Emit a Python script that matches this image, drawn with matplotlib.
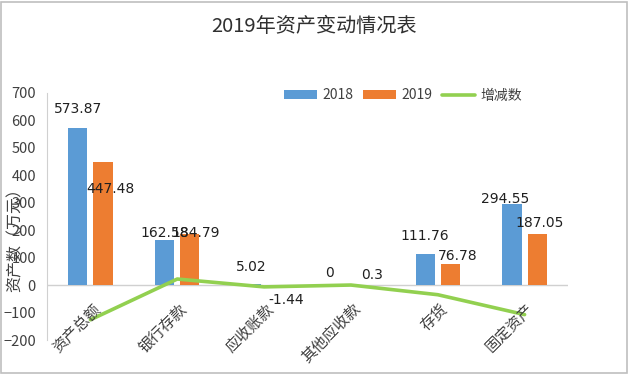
import numpy as np
import matplotlib.pyplot as plt
from matplotlib.patches import Rectangle

plt.rcParams['font.family'] = ['Noto Sans CJK SC', 'DejaVu Sans']

categories = ["资产总额", "银行存款", "应收账款", "其他应收款", "存货", "固定资产"]
v2018 = [573.87, 162.58, 5.02, 0, 111.76, 294.55]
v2019 = [447.48, 184.79, -1.44, 0.3, 76.78, 187.05]
change = [-126.39, 22.21, -6.46, 0.3, -34.98, -107.5]
labels2018 = ["573.87", "162.58", "5.02", "0", "111.76", "294.55"]
labels2019 = ["447.48", "184.79", "-1.44", "0.3", "76.78", "187.05"]

# label offsets in pixels from bar top (manually placed in the original)
off2018 = [(0, 19), (0, 7), (0, 17), (-9, 12), (0, 18), (-7, 5)]
off2019 = [(7, -27), (6, 1), (10, -14), (9, 10), (7, 8), (2, 11)]

blue = "#5B9BD5"
orange = "#ED7D31"
green = "#92D050"
txt = "#404040"

fig = plt.figure(figsize=(6.28, 3.74), dpi=100)
ax = fig.add_axes([47 / 628, (374 - 340) / 374, (568 - 47) / 628, (340 - 93) / 374])

x = np.arange(len(categories))
w = 0.22
d = 0.145
b1 = ax.bar(x - d, v2018, w, color=blue, label="2018", zorder=2)
b2 = ax.bar(x + d, v2019, w, color=orange, label="2019", zorder=2)
ln, = ax.plot(x, change, color=green, lw=2.6, label="增减数", zorder=3, solid_capstyle='round')

ax.set_xlim(-0.5, len(categories) - 0.5)
ax.set_ylim(-200, 700)
ax.set_yticks(range(-200, 701, 100))
ax.tick_params(axis='y', length=0, labelsize=10.5, labelcolor=txt, pad=8)
ax.set_xticks([])
for s in ["top", "right", "bottom"]:
    ax.spines[s].set_visible(False)
ax.spines["left"].set_color("#D0D0D0")
ax.axhline(0, color="#D0D0D0", lw=1, zorder=1)

for i in range(len(categories)):
    ax.annotate(labels2018[i], (x[i] - d, v2018[i]), xytext=(off2018[i][0] * 0.72, off2018[i][1] * 0.72),
                textcoords="offset points", ha="center", va="center", fontsize=10, color="#202020",
                family="DejaVu Sans", zorder=4)
    ax.annotate(labels2019[i], (x[i] + d, v2019[i]), xytext=(off2019[i][0] * 0.72, off2019[i][1] * 0.72),
                textcoords="offset points", ha="center", va="center", fontsize=10, color="#202020",
                family="DejaVu Sans", zorder=4)
    ax.annotate(categories[i], (x[i], 0), xytext=(1, -11), textcoords="offset points",
                ha="right", va="top", rotation=45, rotation_mode="anchor", fontsize=11, color=txt)

ax.set_ylabel("资产数（万元）", fontsize=11.5, color=txt)
ax.yaxis.set_label_coords(-0.045, 0.42)

fig.text(0.5, 0.93, "2019年资产变动情况表", ha="center", va="center", fontsize=14.5, color="#303030")

ax.legend([b1, b2, ln], ["2018", "2019", "增减数"], loc="center left", bbox_to_anchor=(0.455, 0.99),
          ncol=3, frameon=False, fontsize=10, handlelength=2.4, handleheight=0.55,
          columnspacing=0.7, handletextpad=0.35, labelcolor=txt, borderaxespad=0, borderpad=0)

fig.patches.append(Rectangle((1 / 628, 1 / 374), 626 / 628, 371 / 374, transform=fig.transFigure,
                             fill=False, edgecolor="#BFBFBF", lw=1.2))

fig.savefig("out.png", dpi=100)
